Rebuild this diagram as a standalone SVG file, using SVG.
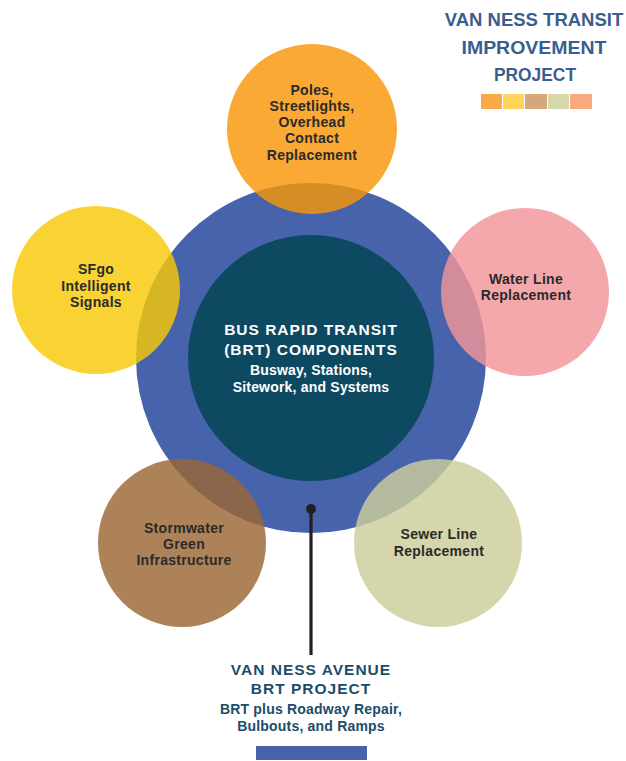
<svg xmlns="http://www.w3.org/2000/svg" width="626" height="761" viewBox="0 0 626 761">
<style>
.t{font-family:"Liberation Sans",Arial,sans-serif;font-weight:bold;text-anchor:middle}
.lbl{font-size:14px;fill:#2a2a2a;letter-spacing:0.3px}
.title{font-size:18.5px;fill:#3a5e8e}
.ctr1{font-size:15.5px;fill:#ffffff;letter-spacing:1px}
.ctr2{font-size:14px;fill:#ffffff;letter-spacing:0.2px}
.bt1{font-size:15.5px;fill:#1b4d6a;letter-spacing:1px}
.bt2{font-size:14px;fill:#1b4d6a;letter-spacing:0.2px}
.sat{fill-opacity:0.82}
</style>
<rect width="626" height="761" fill="#ffffff"/>
<g id="title">
<text class="t title" x="534" y="26">VAN NESS TRANSIT</text>
<text class="t title" x="534" y="54" textLength="145" lengthAdjust="spacingAndGlyphs">IMPROVEMENT</text>
<text class="t title" x="535" y="81" textLength="82" lengthAdjust="spacingAndGlyphs">PROJECT</text>
<rect x="481" y="94" width="21" height="15" fill="#f9a94a"/>
<rect x="503" y="94" width="21" height="15" fill="#fdd55a"/>
<rect x="525" y="94" width="22" height="15" fill="#d4a87c"/>
<rect x="548" y="94" width="21" height="15" fill="#d4d8ab"/>
<rect x="570" y="94" width="22" height="15" fill="#f9a87f"/>
</g>
<g id="brt-outer"><circle cx="311" cy="358" r="175" fill="#4663ab"/></g>
<g id="brt-components">
<circle cx="311" cy="358" r="123" fill="#0d4a62"/>
<text class="t ctr1" x="311" y="335">BUS RAPID TRANSIT</text>
<text class="t ctr1" x="311" y="355">(BRT) COMPONENTS</text>
<text class="t ctr2" x="311" y="375">Busway, Stations,</text>
<text class="t ctr2" x="311" y="392">Sitework, and Systems</text>
</g>
<g id="poles">
<circle class="sat" cx="312" cy="129" r="85" fill="#f89607"/>
<text class="t lbl" x="312" y="95">Poles,</text>
<text class="t lbl" x="312" y="111">Streetlights,</text>
<text class="t lbl" x="312" y="127">Overhead</text>
<text class="t lbl" x="312" y="143">Contact</text>
<text class="t lbl" x="312" y="160">Replacement</text>
</g>
<g id="sfgo">
<circle class="sat" cx="96" cy="290" r="84" fill="#f8c807"/>
<text class="t lbl" x="96" y="274">SFgo</text>
<text class="t lbl" x="96" y="291">Intelligent</text>
<text class="t lbl" x="96" y="307">Signals</text>
</g>
<g id="water">
<circle class="sat" cx="525" cy="292" r="84" fill="#f39599"/>
<text class="t lbl" x="526" y="284">Water Line</text>
<text class="t lbl" x="526" y="300">Replacement</text>
</g>
<g id="stormwater">
<circle class="sat" cx="182" cy="543" r="84" fill="#9b6735"/>
<text class="t lbl" x="184" y="533">Stormwater</text>
<text class="t lbl" x="184" y="549">Green</text>
<text class="t lbl" x="184" y="565">Infrastructure</text>
</g>
<g id="sewer">
<circle class="sat" cx="438" cy="543" r="84" fill="#cccd9a"/>
<text class="t lbl" x="439" y="539">Sewer Line</text>
<text class="t lbl" x="439" y="556">Replacement</text>
</g>
<g id="connectors">
<line x1="311" y1="509" x2="311" y2="655" stroke="#231f20" stroke-width="3.2"/>
<circle cx="311" cy="509" r="5" fill="#231f20"/>
</g>
<g id="van-ness-brt">
<text class="t bt1" x="311" y="675">VAN NESS AVENUE</text>
<text class="t bt1" x="311" y="694">BRT PROJECT</text>
<text class="t bt2" x="311" y="714">BRT plus Roadway Repair,</text>
<text class="t bt2" x="311" y="731">Bulbouts, and Ramps</text>
<rect x="256" y="746" width="111" height="14" fill="#4663ab"/>
</g>
</svg>
